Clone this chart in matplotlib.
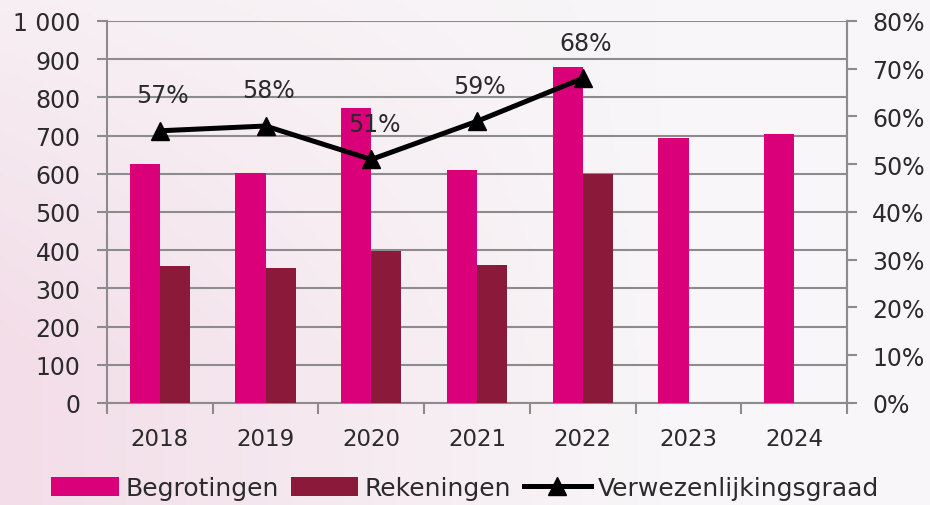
import numpy as np
import matplotlib.pyplot as plt
from matplotlib.colors import LinearSegmentedColormap
from matplotlib.ticker import FuncFormatter

# data
years = ["2018", "2019", "2020", "2021", "2022", "2023", "2024"]
begrotingen = [625, 602, 772, 610, 880, 694, 704]
rekeningen = [358, 353, 398, 361, 600, 0, 0]
graad_years = ["2018", "2019", "2020", "2021", "2022"]
graad = [57, 58, 51, 59, 68]

pink = "#D9007A"
maroon = "#8B1A3A"
grid_col = "#8c8c8c"
txt = "#2b2b2b"

plt.rcParams['font.family'] = ['DejaVu Sans']

fig = plt.figure(figsize=(9.3, 5.06), dpi=100)
fig.patch.set_facecolor("#f8f3f6")

# soft background wash (pinkish on the left, near white top right)
bg = fig.add_axes([0, 0, 1, 1], zorder=-10)
gx = np.linspace(0, 1, 200)
gy = np.linspace(0, 1, 120)
X, Y = np.meshgrid(gx, gy)
wash = np.clip(1 - X * 1.4, 0, 1) * 0.7 * np.clip(1.3 - Y, 0, 1)
bg.imshow(wash, cmap=LinearSegmentedColormap.from_list("w", ["#f8f6f8", "#f3dde8"]),
          aspect="auto", extent=[0, 1, 0, 1], origin="lower")
bg.axis("off")

ax = fig.add_axes([0.115, 0.2016, 0.796, 0.755])
ax.patch.set_alpha(0)
x = np.arange(len(years))
w = 0.285
ax.bar(x - w / 2, begrotingen, w, color=pink, label="Begrotingen", zorder=3)
ax.bar(x[:5] + w / 2, rekeningen[:5], w, color=maroon, label="Rekeningen", zorder=3)

ax.set_xlim(-0.5, len(years) - 0.5)
ax.set_ylim(0, 1000)
ax.set_yticks(np.arange(0, 1001, 100))
ax.yaxis.set_major_formatter(FuncFormatter(lambda v, p: f"{int(v):,}".replace(",", " ")))
ax.grid(axis="y", color=grid_col, linewidth=1.5, zorder=0)
ax.set_xticks(x)
ax.set_xticklabels(years)
ax.set_xticks(np.arange(-0.5, len(years)), minor=True)
ax.tick_params(axis="x", which="major", length=0, pad=17, labelsize=16.5, labelcolor=txt)
ax.tick_params(axis="x", which="minor", length=8, width=1.5, color=grid_col)
ax.tick_params(axis="y", length=7, width=1.5, color=grid_col, labelsize=17, labelcolor=txt, pad=12)
ax.spines["top"].set_visible(False)
for s in ["left", "right", "bottom"]:
    ax.spines[s].set_color(grid_col)
    ax.spines[s].set_linewidth(1.5)

ax2 = ax.twinx()
ax2.set_ylim(0, 80)
ax2.set_yticks(np.arange(0, 81, 10))
ax2.yaxis.set_major_formatter(FuncFormatter(lambda v, p: f"{int(v)}%"))
ax2.tick_params(axis="y", length=7, width=1.5, color=grid_col, labelsize=17, labelcolor=txt, pad=11)
for s in ["top", "left", "bottom"]:
    ax2.spines[s].set_visible(False)
ax2.spines["right"].set_color(grid_col)
ax2.spines["right"].set_linewidth(1.5)
gx2 = [years.index(y) for y in graad_years]
ax2.plot(gx2, graad, color="black", linewidth=3.6, marker="^", markersize=13,
         label="Verwezenlijkingsgraad", zorder=5)
for xi, v in zip(gx2, graad):
    ax2.annotate(f"{v}%", (xi, v), xytext=(2, 17), textcoords="offset points",
                 ha="center", va="bottom", fontsize=17, color=txt)

h1, l1 = ax.get_legend_handles_labels()
h2, l2 = ax2.get_legend_handles_labels()
fig.legend(h1 + h2, l1 + l2, loc="lower center", bbox_to_anchor=(0.5, -0.035), ncol=3,
           frameon=False, fontsize=18, handlelength=2.7, handleheight=0.8,
           columnspacing=0.5, handletextpad=0.25, labelcolor=txt)

fig.savefig("out.png", dpi=100, facecolor=fig.get_facecolor())
